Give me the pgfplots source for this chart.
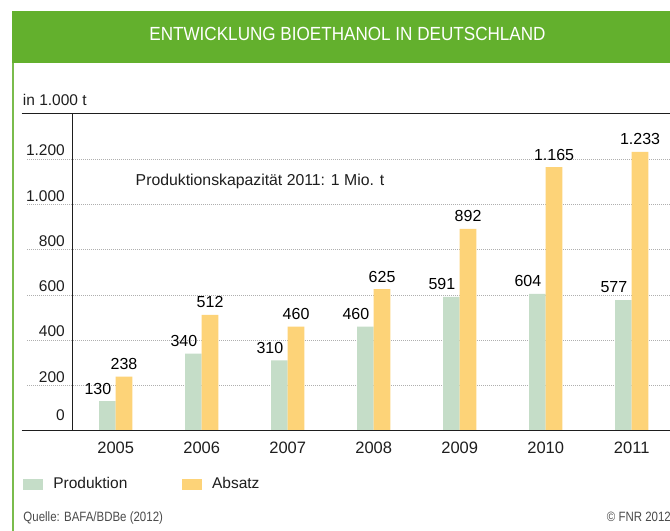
\documentclass[border=0pt]{standalone}
\usepackage{fontspec}
\setmainfont{Liberation Sans}
\newfontfamily\titlefont[FakeStretch=0.9]{Liberation Sans}
\newfontfamily\condfont[FakeStretch=0.85]{Liberation Sans}
\usepackage{pgfplots}
\pgfplotsset{compat=1.18}
\definecolor{fnrgreen}{RGB}{99,176,45}
\definecolor{prodgreen}{RGB}{197,221,200}
\definecolor{absatzyellow}{RGB}{253,211,120}
\definecolor{txt}{RGB}{30,30,30}
\definecolor{gridgray}{RGB}{175,175,175}
\pgfkeys{/pgf/number format/assume math mode=true}
\begin{document}
\begin{tikzpicture}[x=1bp,y=1bp]
\useasboundingbox (0,0) rectangle (670,-531);
\clip (0,0) rectangle (670,-531);
\fill[white] (0,0) rectangle (670,-531);
\fill[fnrgreen] (12,-11) rectangle (680,-63);
\fill[fnrgreen!85] (12,-63) rectangle (14,-531);
\node[text=white, inner sep=0pt, font=\titlefont\fontsize{19bp}{22bp}\selectfont] at (347.5,-34) {ENTWICKLUNG BIOETHANOL IN DEUTSCHLAND};
\node[anchor=base west, inner sep=0pt, text=txt, font=\fontsize{15.5bp}{18bp}\selectfont] at (22.7,-106) {in 1.000 t};
\begin{axis}[
  at={(27bp,-430.5bp)}, anchor=south west,
  scale only axis, width=653bp, height=316.5bp,
  xmin=-1.0314, xmax=6.5616, ymin=0, ymax=1400,
  clip=false,
  axis line style={draw=none},
  major tick length=0pt,
  ybar=0pt, bar width=16.7bp,
  xtick={0,1,2,3,4,5,6},
  xticklabels={2005,2006,2007,2008,2009,2010,2011},
  ytick={200,400,600,800,1000,1200},
  extra y ticks={0},
  extra y tick style={grid=none, yticklabel style={yshift=6.9bp}},
  scaled y ticks=false,
  /pgf/number format/.cd, 1000 sep={.}, /pgfplots/.cd,
  ymajorgrids,
  major grid style={gridgray, line width=0.7bp, dash pattern=on 0.7bp off 1.3bp},
  xticklabel style={anchor=center, yshift=-17bp, inner sep=0pt, text=txt, font=\fontsize{16.5bp}{19bp}\selectfont},
  yticklabel style={anchor=east, inner sep=0pt, xshift=38bp, yshift=8.6bp, text=txt, font=\fontsize{15.5bp}{18bp}\selectfont},
  nodes near coords,
  every node near coord/.append style={anchor=center, inner sep=0pt, yshift=12.5bp, text=black, font=\fontsize{16bp}{18bp}\selectfont},
  legend columns=2,
  legend style={at={(axis description cs:-0.00567,-0.169)}, anchor=west, draw=none, fill=none,
    inner sep=0pt, outer sep=0pt,
    nodes={inner sep=0pt, text=txt},
    font=\fontsize{15.5bp}{18bp}\selectfont,
    /tikz/every even column/.append style={column sep=54.7bp}},
  legend image code/.code={\fill[#1] (0bp,-5.5bp) rectangle (20bp,5.5bp); \path (30bp,0bp);},
]
\addplot[fill=prodgreen, draw=none, every node near coord/.append style={xshift=-9.5bp}] coordinates {
(0,130) (1,340) (2,310) (3,460) (4,591) (5,604) (6,577)};
\addlegendentry{Produktion}
\addplot[fill=absatzyellow, draw=none] coordinates {
(0,238) (1,512) (2,460) (3,625) (4,892) (5,1165) (6,1233)};
\addlegendentry{Absatz}
\draw[txt, line width=1bp] (rel axis cs:0.06937,0) -- (rel axis cs:0.06937,1);
\end{axis}
\draw[txt, line width=1bp] (21.7,-114) -- (680,-114);
\draw[txt, line width=1bp] (21.7,-430.5) -- (680,-430.5);
\node[anchor=base, inner sep=0pt, text=txt, font=\fontsize{15.8bp}{18bp}\selectfont] at (260,-186) {Produktionskapazität 2011: 1 Mio. t};
\node[anchor=base west, inner sep=0pt, text=txt!80, font=\condfont\fontsize{13.5bp}{16bp}\selectfont] at (23.3,-521.5) {Quelle: BAFA/BDBe (2012)};
\node[anchor=base west, inner sep=0pt, text=txt!80, font=\condfont\fontsize{13.5bp}{16bp}\selectfont] at (606.7,-521.5) {© FNR 2012};
\end{tikzpicture}
\end{document}
